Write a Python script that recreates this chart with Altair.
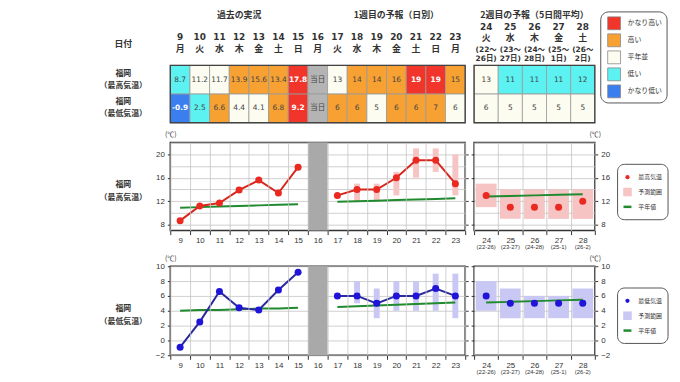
import altair as alt
import pandas as pd

FONT_JP = "Noto Sans CJK JP"
FONT_NUM = "DejaVu Sans, Noto Sans CJK JP"
FONT_AX = "Liberation Sans, Noto Sans CJK JP"
INK = "#333333"

# ---------------- data ----------------
days1 = list(range(9, 24))
dow1 = ["月", "火", "水", "木", "金", "土", "日", "月", "火", "水", "木", "金", "土", "日", "月"]
days2 = [24, 25, 26, 27, 28]
dow2 = ["火", "水", "木", "金", "土"]
span2_top = ["(22～", "(23～", "(24～", "(25～", "(26～"]
span2_bot = ["26日)", "27日)", "28日)", "1日)", "2日)"]
span2_axis = ["(22-26)", "(23-27)", "(24-28)", "(25-1)", "(26-2)"]
today_day = 16

section_titles = ["過去の実況", "1週目の予報（日別）", "2週目の予報（5日間平均）"]
section_days = [12, 20, 26]

classes = ["かなり高い", "高い", "平年並", "低い", "かなり低い", "当日"]
class_colors = ["#f2352a", "#f8a133", "#fdfcf0", "#5cf2f2", "#3b7ef0", "#b4b4b4"]

tab_hi_text1 = ["8.7", "11.2", "11.7", "13.9", "15.6", "13.4", "17.8", "当日",
                "13", "14", "14", "16", "19", "19", "15"]
tab_hi_cls1 = ["低い", "平年並", "平年並", "高い", "高い", "高い", "かなり高い", "当日",
               "平年並", "高い", "高い", "高い", "かなり高い", "かなり高い", "高い"]
tab_lo_text1 = ["-0.9", "2.5", "6.6", "4.4", "4.1", "6.8", "9.2", "当日",
                "6", "6", "5", "6", "6", "7", "6"]
tab_lo_cls1 = ["かなり低い", "低い", "高い", "平年並", "平年並", "高い", "かなり高い", "当日",
               "高い", "高い", "平年並", "高い", "高い", "高い", "平年並"]
tab_hi_text2 = ["13", "11", "11", "11", "12"]
tab_hi_cls2 = ["平年並", "低い", "低い", "低い", "低い"]
tab_lo_text2 = ["6", "5", "5", "5", "5"]
tab_lo_cls2 = ["平年並", "平年並", "平年並", "平年並", "平年並"]

obs_days = [9, 10, 11, 12, 13, 14, 15]
fc_days = [17, 18, 19, 20, 21, 22, 23]

obs_hi = [8.7, 11.2, 11.7, 13.9, 15.6, 13.4, 17.8]
fc_hi = [13, 14, 14, 16, 19, 19, 15]
fc_hi_min = [None, 12, 12, 13, 16, 17, 13]
fc_hi_max = [None, 15, 15, 17, 21, 21, 20]
norm_hi_obs = [10.9, 11.0, 11.1, 11.2, 11.3, 11.4, 11.5]
norm_hi_fc = [11.9, 12.0, 12.1, 12.2, 12.3, 12.4, 12.5]
wk2_hi = [13, 11, 11, 11, 12]
wk2_hi_min = [11, 9, 9, 9, 9]
wk2_hi_max = [15, 14, 14, 14, 14]
wk2_norm_hi = [12.8, 12.9, 13.0, 13.1, 13.2]

obs_lo = [-0.9, 2.5, 6.6, 4.4, 4.1, 6.8, 9.2]
fc_lo = [6, 6, 5, 6, 6, 7, 6]
fc_lo_min = [None, 5, 3, 4, 4, 4, 3]
fc_lo_max = [None, 8, 7, 8, 8, 9, 9]
norm_lo_obs = [4.0, 4.1, 4.1, 4.2, 4.3, 4.3, 4.4]
norm_lo_fc = [4.5, 4.6, 4.7, 4.8, 4.9, 5.0, 5.1]
wk2_lo = [6, 5, 5, 5, 5]
wk2_lo_min = [4, 3, 3, 3, 3]
wk2_lo_max = [8, 7, 6, 6, 7]
wk2_norm_lo = [5.1, 5.2, 5.3, 5.4, 5.5]

hi_legend = ["最高気温", "予測範囲", "平年値"]
lo_legend = ["最低気温", "予測範囲", "平年値"]

# ---------------- layout / style ----------------
W1, W2 = 298, 122
HA, HB, HC = 42, 89, 90
TAB_H = 58
GREEN = "#1f8a2e"
GRID = "#c4c4c4"
PT_SIZE = 50

one = pd.DataFrame({"a": [0]})


def band_x(days, axis):
    return alt.X("day:O", scale=alt.Scale(type="band", domain=days, paddingInner=0, paddingOuter=0),
                 axis=axis)


def label(text, x, y, size=8, weight="bold", align="center", font=FONT_JP, color=INK):
    return alt.Chart(one).mark_text(text=text, font=font, fontSize=size, fontWeight=weight,
                                    align=align, baseline="middle", color=color).encode(
        x=alt.value(x), y=alt.value(y))


color_enc = alt.Color("cls:N", scale=alt.Scale(domain=classes, range=class_colors), legend=None)


def table_df(days, hi_text, hi_cls, lo_text, lo_cls):
    rows = []
    for i, d in enumerate(days):
        rows.append(dict(day=d, r0=0, r1=1, rm=0.5, txt=hi_text[i], cls=hi_cls[i]))
        rows.append(dict(day=d, r0=1, r1=2, rm=1.5, txt=lo_text[i], cls=lo_cls[i]))
    return pd.DataFrame(rows)


def table_chart(df, days, width, header_layers):
    x = band_x(days, None)
    ysc = alt.Scale(domain=[0, 2], range=[0, TAB_H])
    base = alt.Chart(df)
    strong = "datum.cls == 'かなり高い' || datum.cls == 'かなり低い'"
    cells = base.mark_rect(stroke="#9a9a9a", strokeWidth=0.8).encode(
        x=x, y=alt.Y("r0:Q", scale=ysc, axis=None), y2="r1:Q", color=color_enc)
    t_norm = base.transform_filter("!(" + strong + ")").mark_text(
        font=FONT_NUM, fontSize=7.5, color="#444").encode(
        x=x, y=alt.Y("rm:Q", scale=ysc, axis=None), text="txt:N")
    t_bold = base.transform_filter(strong).mark_text(
        font=FONT_NUM, fontSize=7.5, fontWeight="bold", color="white").encode(
        x=x, y=alt.Y("rm:Q", scale=ysc, axis=None), text="txt:N")
    frame = alt.Chart(one).mark_rect(fill="transparent", stroke="#444", strokeWidth=1.4).encode(
        x=alt.value(0), x2=alt.value(width), y=alt.value(0), y2=alt.value(TAB_H))
    return alt.layer(cells, t_norm, t_bold, frame, *header_layers).properties(
        width=width, height=HA, view=alt.ViewBackground(stroke="transparent"))


# headers week 1
hdr1 = alt.Chart(pd.DataFrame({"day": days1, "dow": dow1}))
x1n = band_x(days1, None)
hdr1_layers = [
    hdr1.mark_text(font=FONT_NUM, fontSize=9, fontWeight="bold", color=INK).encode(
        x=x1n, y=alt.value(-29), text="day:N"),
    hdr1.mark_text(font=FONT_JP, fontSize=9, fontWeight="bold", color=INK).encode(
        x=x1n, y=alt.value(-17), text="dow:N"),
    alt.Chart(pd.DataFrame({"day": section_days[:2], "t": section_titles[:2]})).mark_text(
        font=FONT_JP, fontSize=9, fontWeight="bold", color=INK).encode(
        x=x1n, y=alt.value(-50.5), text="t:N"),
    label("日付", -47.5, -22, size=9),
    label("福岡", -47.5, 9),
    label("（最高気温）", -47.5, 21),
    label("福岡", -47.5, 37),
    label("（最低気温）", -47.5, 49),
]
A1 = table_chart(table_df(days1, tab_hi_text1, tab_hi_cls1, tab_lo_text1, tab_lo_cls1),
                 days1, W1, hdr1_layers)

hdr2 = alt.Chart(pd.DataFrame({"day": days2, "dow": dow2, "s1": span2_top, "s2": span2_bot}))
x2n = band_x(days2, None)
# class legend (drawn to the right of the week-2 table)
cls_legend = [alt.Chart(one).mark_rect(fill="white", stroke="#555", strokeWidth=1, cornerRadius=8)
              .encode(x=alt.value(128), x2=alt.value(195), y=alt.value(-54), y2=alt.value(38))]
for i, c in enumerate(classes[:5]):
    cls_legend.append(
        alt.Chart(pd.DataFrame({"cls": [c]})).mark_square(
            size=169, stroke="#888", strokeWidth=0.8, opacity=1).encode(
            x=alt.value(141.5), y=alt.value(-42.5 + 17.2 * i), color=color_enc))
    cls_legend.append(label(c, 155, -42.5 + 17.2 * i, size=7, weight="normal", align="left"))

hdr2_layers = [
    hdr2.mark_text(font=FONT_NUM, fontSize=9, fontWeight="bold", color=INK).encode(
        x=x2n, y=alt.value(-39), text="day:N"),
    hdr2.mark_text(font=FONT_JP, fontSize=9, fontWeight="bold", color=INK).encode(
        x=x2n, y=alt.value(-27.5), text="dow:N"),
    hdr2.mark_text(font=FONT_NUM, fontSize=7.5, fontWeight="bold", color=INK).encode(
        x=x2n, y=alt.value(-16), text="s1:N"),
    hdr2.mark_text(font=FONT_NUM, fontSize=7.5, fontWeight="bold", color=INK).encode(
        x=x2n, y=alt.value(-6), text="s2:N"),
    alt.Chart(pd.DataFrame({"day": [section_days[2]], "t": [section_titles[2]]})).mark_text(
        font=FONT_JP, fontSize=9, fontWeight="bold", color=INK).encode(
        x=x2n, y=alt.value(-51), text="t:N"),
] + cls_legend
A2 = table_chart(table_df(days2, tab_hi_text2, tab_hi_cls2, tab_lo_text2, tab_lo_cls2),
                 days2, W2, hdr2_layers)


# ---------------- temperature panels ----------------
def x_axis():
    return alt.Axis(tickBand="extent", labelAngle=0, title=None, labelFont=FONT_AX, labelFontSize=8,
                    labelColor=INK, tickColor=INK, tickSize=4, labelPadding=2, domain=False,
                    grid=True, gridColor=GRID, gridWidth=0.8)


def tick_kw(every4):
    if every4:
        return {"tickOpacity": {"condition": {"test": "datum.value % 4 == 0", "value": 1},
                                "value": 0}}
    return {}


def y_axis(values, every4, orient):
    kw = tick_kw(every4)
    if every4:
        kw["labelExpr"] = "datum.value % 4 == 0 ? datum.label : ''"
    return alt.Axis(values=values, orient=orient, title="(℃)", titleAngle=0, titleX=0, titleY=-8,
                    titleAlign="center", titleBaseline="middle", titleFontSize=7,
                    titleFontWeight="normal", titleFont=FONT_JP, titleColor=INK,
                    labelFont=FONT_AX, labelFontSize=8, labelColor=INK, tickColor=INK, tickSize=3,
                    labelPadding=3, domain=False, grid=True, gridColor=GRID, gridWidth=0.8, **kw)


def tick_axis(values, every4, orient):
    return alt.Axis(values=values, orient=orient, title="", labels=False, tickColor=INK,
                    tickSize=3, domain=False, grid=False, **tick_kw(every4))


def week1_panel(obs, fc, rmin, rmax, nobs, nfc, dom, yvals, every4, line_c, pt_c, band_c,
                lbl, height):
    x = band_x(days1, x_axis())
    yax = y_axis(yvals, every4, "left")
    ysc = alt.Scale(domain=dom, nice=False, zero=False)
    tdf = pd.DataFrame({"day": obs_days + fc_days, "t": obs + fc, "seg": ["obs"] * 7 + ["fc"] * 7})
    ndf = pd.DataFrame({"day": obs_days + fc_days, "t": nobs + nfc, "seg": ["obs"] * 7 + ["fc"] * 7})
    rdf = pd.DataFrame({"day": fc_days, "lo": rmin, "hi": rmax}).dropna()
    grey = alt.Chart(pd.DataFrame({"day": [today_day]})).mark_rect(color="#a9a9a9").encode(
        x=x, y=alt.value(0), y2=alt.value(height))
    rng = alt.Chart(rdf).mark_bar(size=6, color=band_c, opacity=1).encode(
        x=x, y=alt.Y("lo:Q", scale=ysc, axis=yax), y2="hi:Q")
    norm = alt.Chart(ndf).mark_line(color=GREEN, strokeWidth=2).encode(
        x=x, y=alt.Y("t:Q", scale=ysc, axis=None), detail="seg:N")
    line = alt.Chart(tdf).mark_line(color=line_c, strokeWidth=2).encode(
        x=x, y=alt.Y("t:Q", scale=ysc, axis=None), detail="seg:N")
    pts = alt.Chart(tdf).mark_circle(size=PT_SIZE, color=pt_c, opacity=1).encode(
        x=x, y=alt.Y("t:Q", scale=ysc, axis=tick_axis(yvals, every4, "right")))
    labels = [label("福岡", -47.5, 43), label(lbl, -47.5, 56)]
    return alt.layer(grey, rng, norm, line, pts, *labels).resolve_scale(y="independent").properties(
        width=W1, height=height,
        view=alt.ViewBackground(stroke="#333", strokeWidth=1.5))


def week2_panel(vals, rmin, rmax, nvals, dom, yvals, every4, pt_c, band_c, leg, height):
    x = band_x(days2, x_axis())
    yax = y_axis(yvals, every4, "right")
    ysc = alt.Scale(domain=dom, nice=False, zero=False)
    df = pd.DataFrame({"day": days2, "t": vals, "lo": rmin, "hi": rmax, "n": nvals,
                       "sub": span2_axis})
    base = alt.Chart(df)
    rng = base.mark_bar(size=21, color=band_c, opacity=1).encode(
        x=x, y=alt.Y("lo:Q", scale=ysc, axis=tick_axis(yvals, every4, "left")), y2="hi:Q")
    norm = base.mark_line(color=GREEN, strokeWidth=2).encode(
        x=x, y=alt.Y("n:Q", scale=ysc, axis=None))
    pts = base.mark_circle(size=PT_SIZE, color=pt_c, opacity=1).encode(
        x=x, y=alt.Y("t:Q", scale=ysc, axis=yax))
    sub = base.mark_text(font=FONT_AX, fontSize=6, color=INK).encode(
        x=x, y=alt.value(height + 17), text="sub:N")
    box = alt.Chart(one).mark_rect(fill="white", stroke="#555", strokeWidth=1, cornerRadius=7).encode(
        x=alt.value(145), x2=alt.value(196), y=alt.value(22), y2=alt.value(78))
    dot = alt.Chart(one).mark_circle(size=18, color=pt_c, opacity=1).encode(
        x=alt.value(155), y=alt.value(35))
    sq = alt.Chart(one).mark_square(size=75, color=band_c, opacity=1).encode(
        x=alt.value(155), y=alt.value(50))
    ln = alt.Chart(one).mark_rule(color=GREEN, strokeWidth=2.5).encode(
        x=alt.value(151), x2=alt.value(159), y=alt.value(65))
    texts = [label(leg[i], 166, 35 + 15 * i, size=6, weight="normal", align="left")
             for i in range(3)]
    return alt.layer(rng, norm, pts, sub, box, dot, sq, ln, *texts).resolve_scale(
        y="independent").properties(
        width=W2, height=height,
        view=alt.ViewBackground(stroke="#333", strokeWidth=1.5))


B1 = week1_panel(obs_hi, fc_hi, fc_hi_min, fc_hi_max, norm_hi_obs, norm_hi_fc, [7, 22],
                 list(range(8, 23, 2)), True, "#d8261c", "#ea2a20", "#f7c4c4", "（最高気温）", HB)
B2 = week2_panel(wk2_hi, wk2_hi_min, wk2_hi_max, wk2_norm_hi, [7, 22], list(range(8, 23, 2)), True,
                 "#ea2a20", "#f7c4c4", hi_legend, HB)
C1 = week1_panel(obs_lo, fc_lo, fc_lo_min, fc_lo_max, norm_lo_obs, norm_lo_fc, [-2, 10],
                 list(range(-2, 11, 2)), False, "#2b2a9c", "#1f14d8", "#c9c8f5", "（最低気温）", HC)
C2 = week2_panel(wk2_lo, wk2_lo_min, wk2_lo_max, wk2_norm_lo, [-2, 10], list(range(-2, 11, 2)), False,
                 "#1f14d8", "#c9c8f5", lo_legend, HC)

chart = alt.concat(A1, A2, B1, B2, C1, C2, columns=2, spacing={"row": 36, "column": 9},
                   bounds="flush").properties(
    padding={"left": 91, "top": 0, "right": 2, "bottom": 2},
    background="white",
).configure(font=FONT_JP)

chart.save("out.html", embed_options={"renderer": "svg", "actions": False})
